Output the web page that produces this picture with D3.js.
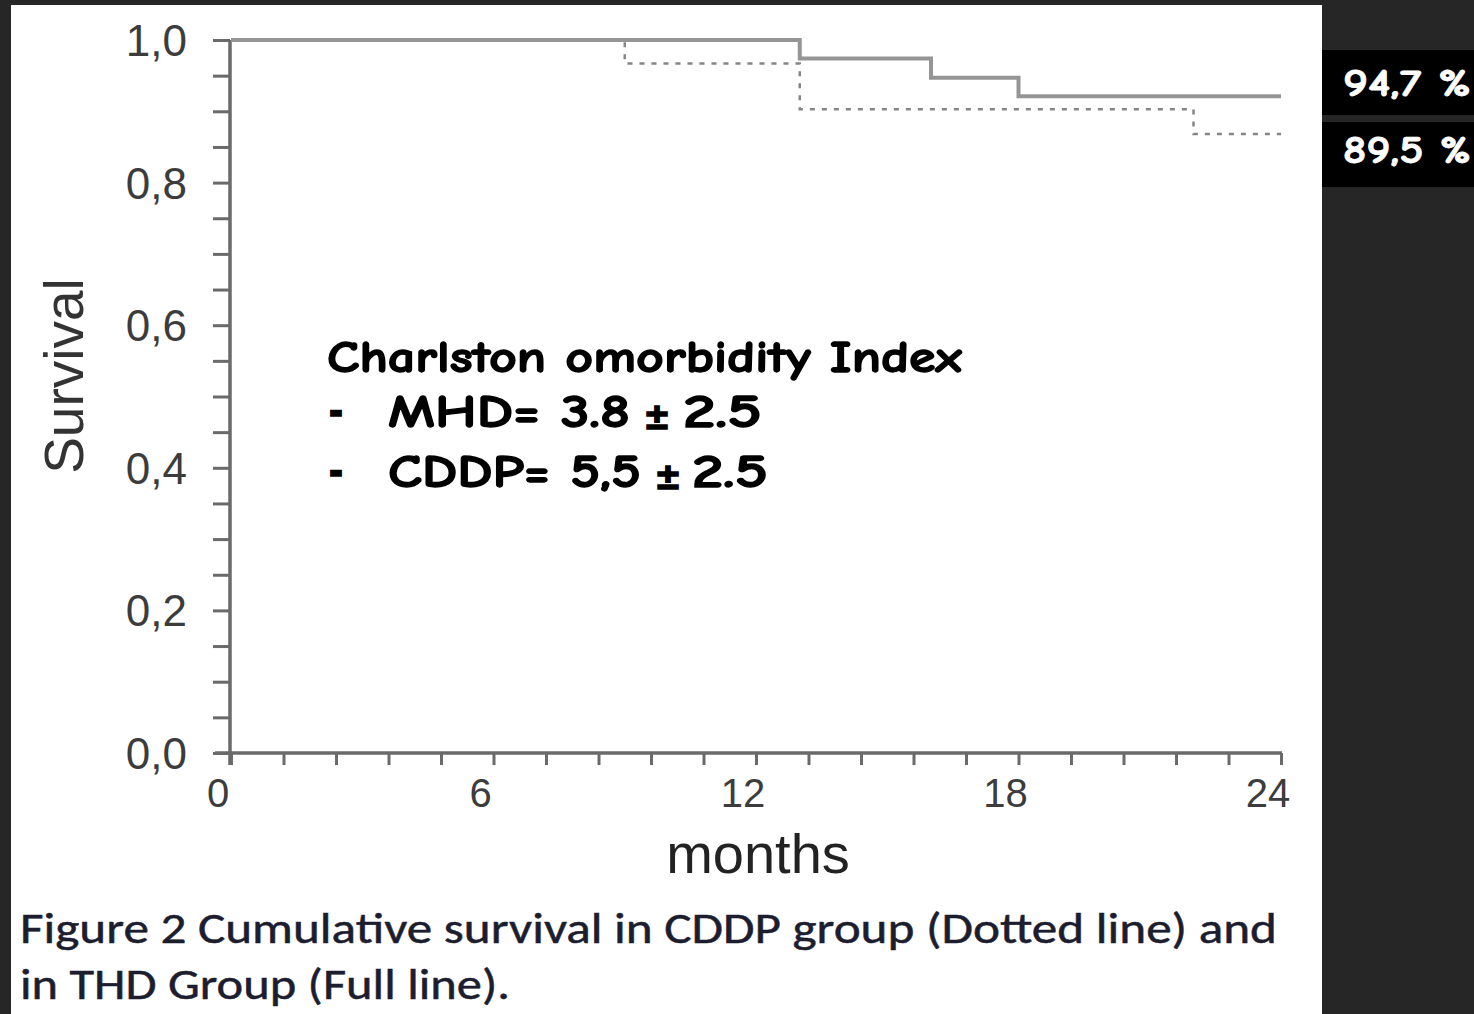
<!DOCTYPE html>
<html>
<head>
<meta charset="utf-8">
<script src="https://cdn.jsdelivr.net/npm/d3@7.9.0/dist/d3.min.js"></script>
<style>
  html, body { margin: 0; padding: 0; background: #262626; }
  svg { display: block; }
</style>
</head>
<body>
<svg id="chart" width="1474" height="1014"></svg>
<script>
// Kaplan-Meier steps (months, survival)
const thdMonths = [0, 13, 16, 18, 24];
const thdSurvival = [1.0, 0.974, 0.947, 0.921, 0.921];
const cddpMonths = [0, 9, 13, 22, 24];
const cddpSurvival = [1.0, 0.967, 0.903, 0.868, 0.868];

// axis ticks
const xLabelTicks = [0, 6, 12, 18, 24];
const xMinorTicks = [0, 1.2, 2.4, 3.6, 4.8, 6, 7.2, 8.4, 9.6, 10.8, 12, 13.2, 14.4, 15.6, 16.8, 18, 19.2, 20.4, 21.6, 22.8, 24];
const yLabelTicks = [0, 0.2, 0.4, 0.6, 0.8, 1.0];
const yMinorTicks = [0, 0.05, 0.1, 0.15, 0.2, 0.25, 0.3, 0.35, 0.4, 0.45, 0.5, 0.55, 0.6, 0.65, 0.7, 0.75, 0.8, 0.85, 0.9, 0.95, 1.0];

// texts
const noteTitle = 'Charlston omorbidity Index';
const noteLabels = ['MHD= 3.8', 'CDDP= 5,5'];
const noteSpread = ['2.5', '2.5'];
const sideBoxes = ['94,7 %', '89,5 %'];
const captionLines = ['Figure 2 Cumulative survival in CDDP group (Dotted line) and', 'in THD Group (Full line).'];

const svg = d3.select('#chart');

// white figure panel
svg.append('rect').attr('x', 11).attr('y', 5).attr('width', 1311).attr('height', 1009).attr('fill', '#fff');

const x = d3.scaleLinear().domain([0, 24]).range([231, 1281]);
const y = d3.scaleLinear().domain([0, 1]).range([753, 40]);

const axisColor = '#6a6a6a';

// y axis: minor ticks all same length
const gy = svg.append('g').attr('transform', `translate(${x(0) - 1},0)`)
  .call(d3.axisLeft(y).tickValues(yMinorTicks).tickSize(17).tickFormat(''));
gy.select('.domain').remove();
gy.selectAll('.tick line').attr('stroke', axisColor).attr('stroke-width', 3);
svg.append('line').attr('x1', x(0) - 1).attr('x2', x(0) - 1).attr('y1', y(1)).attr('y2', y(0) + 12)
  .attr('stroke', axisColor).attr('stroke-width', 3.5);

// x axis
const gx = svg.append('g').attr('transform', `translate(0,${y(0)})`)
  .call(d3.axisBottom(x).tickValues(xMinorTicks).tickSize(12).tickFormat(''));
gx.select('.domain').remove();
gx.selectAll('.tick line').attr('stroke', axisColor).attr('stroke-width', 3);
svg.append('line').attr('x1', 215).attr('x2', x(24) + 1).attr('y1', y(0)).attr('y2', y(0))
  .attr('stroke', axisColor).attr('stroke-width', 3.5);

// tick labels
svg.append('g').selectAll('text').data(yLabelTicks).join('text')
  .attr('x', 187).attr('y', d => y(d) + 16)
  .attr('text-anchor', 'end')
  .attr('font-family', 'Liberation Sans, Arial, sans-serif').attr('font-size', 44)
  .attr('fill', '#3c3c3c')
  .text(d => d.toFixed(1).replace('.', ','));

svg.append('g').selectAll('text').data(xLabelTicks).join('text')
  .attr('x', d => x(d) - 13).attr('y', 807)
  .attr('text-anchor', 'middle')
  .attr('font-family', 'Liberation Sans, Arial, sans-serif').attr('font-size', 40)
  .attr('fill', '#3c3c3c')
  .text(d => d);

// axis titles
svg.append('text').attr('transform', 'translate(83,376) rotate(-90)')
  .attr('text-anchor', 'middle')
  .attr('font-family', 'Liberation Sans, Arial, sans-serif').attr('font-size', 55)
  .attr('fill', '#333').text('Survival');
svg.append('text').attr('x', 758).attr('y', 873)
  .attr('text-anchor', 'middle')
  .attr('font-family', 'Liberation Sans, Arial, sans-serif').attr('font-size', 56)
  .attr('fill', '#222').text('months');

// survival curves
const step = d3.line().x(d => x(d[0])).y(d => y(d[1])).curve(d3.curveStepAfter);
const cddp = cddpMonths.map((m, i) => [m, cddpSurvival[i]]);
const thd = thdMonths.map((m, i) => [m, thdSurvival[i]]);

svg.append('path').attr('d', step(cddp)).attr('fill', 'none')
  .attr('stroke', '#858585').attr('stroke-width', 2.5).attr('stroke-dasharray', '5,7');
svg.append('path').attr('d', step(thd)).attr('fill', 'none')
  .attr('stroke', '#959595').attr('stroke-width', 4);

// annotation (heavy comic-style text)
const noteFont = '"Comic Sans MS", "Comic Neue", "Noto Sans", sans-serif';
function noteText(tx, ty, size, str, len, fam) {
  const t = svg.append('text').attr('x', tx).attr('y', ty)
    .attr('font-family', fam || noteFont).attr('font-weight', 'bold').attr('font-size', size)
    .attr('fill', '#000').attr('stroke', '#000').attr('stroke-width', 1.3)
    .text(str);
  if (len) t.attr('textLength', len).attr('lengthAdjust', 'spacingAndGlyphs');
  return t;
}
noteText(327, 372, 44, noteTitle, 635);

const rowStart = [[388, 630, 646, 683, 762], [388, 641, 657, 692, 768]];
noteLabels.forEach((lab, i) => {
  const by = 427 + i * 60;
  const p = rowStart[i];
  noteText(329, by - 2, 46, '-', 14, 'Liberation Sans, Arial, sans-serif');
  noteText(p[0], by, 46, lab, p[1] - p[0]);
  noteText(p[2], by + 2, 36, '±', 22, 'Liberation Sans, Arial, sans-serif');
  noteText(p[3], by, 46, noteSpread[i], p[4] - p[3]);
});

// side boxes
sideBoxes.forEach((s, i) => {
  svg.append('rect').attr('x', 1322).attr('y', i === 0 ? 50 : 122).attr('width', 152).attr('height', 65).attr('fill', '#000');
  svg.append('text').attr('x', 1343).attr('y', i === 0 ? 96 : 163)
    .attr('font-family', noteFont).attr('font-weight', 'bold').attr('font-size', 39)
    .attr('textLength', 128).attr('lengthAdjust', 'spacingAndGlyphs')
    .attr('fill', '#fff').attr('stroke', '#fff').attr('stroke-width', 0.8).text(s);
});

// caption
captionLines.forEach((c, i) => {
  svg.append('text').attr('x', 20).attr('y', 943 + i * 56)
    .attr('font-family', 'Carlito, Calibri, "Noto Sans", sans-serif').attr('font-size', 44)
    .attr('textLength', i === 0 ? 1257 : 490).attr('lengthAdjust', 'spacingAndGlyphs')
    .attr('fill', '#1d1d30').attr('stroke', '#1d1d30').attr('stroke-width', 0.5).text(c);
});
</script>
</body>
</html>
